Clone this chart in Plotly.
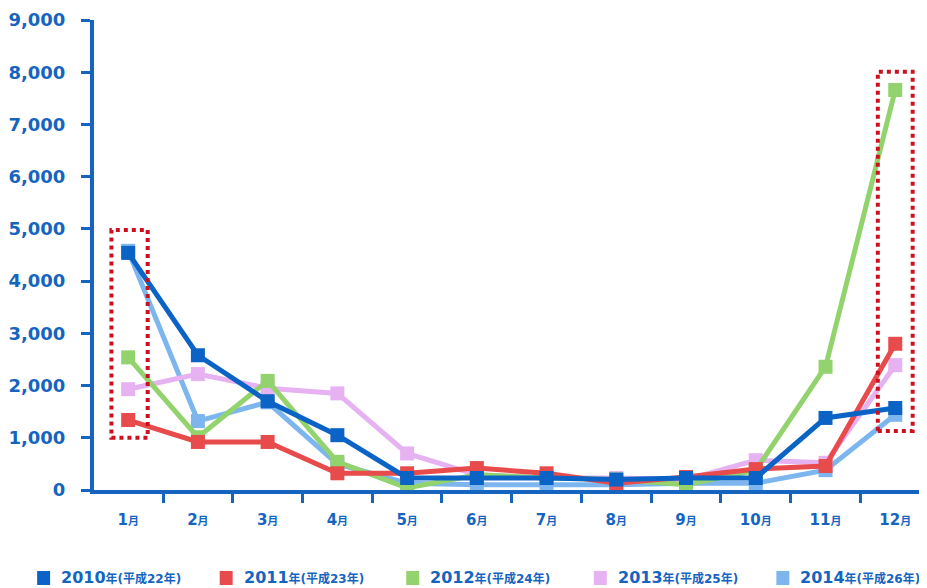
import plotly.graph_objects as go

months = ["1月", "2月", "3月", "4月", "5月", "6月", "7月", "8月", "9月", "10月", "11月", "12月"]
series_names = ["2010年(平成22年)", "2011年(平成23年)", "2012年(平成24年)", "2013年(平成25年)", "2014年(平成26年)"]
v2010 = [4540, 2580, 1700, 1050, 230, 230, 230, 200, 230, 230, 1380, 1570]
v2011 = [1340, 920, 920, 320, 320, 420, 320, 130, 250, 400, 460, 2800]
v2012 = [2540, 1010, 2090, 540, 40, 290, 230, 200, 100, 380, 2360, 7660]
v2013 = [1930, 2220, 1950, 1850, 700, 290, 230, 230, 200, 570, 520, 2390]
v2014 = [4580, 1320, 1680, 500, 130, 100, 100, 100, 130, 130, 380, 1440]
colors = ["#0c63c6", "#e84b4b", "#92d36e", "#e6b2f2", "#7db6ef"]

BLUE = "#1565c0"
FONT = "DejaVu Sans, Noto Sans CJK JP, sans-serif"

# page has an 8px body margin; layout numbers below compensate for it
L, T, W, H = 84, 12, 927, 588
PLOT_W = W - L
PLOT_TOP_S, PLOT_BOT_S = 20, 490  # screenshot pixels


def px_x(sx):
    return (sx - 92) / PLOT_W


def px_y(sy):
    return (PLOT_BOT_S - sy) / (PLOT_BOT_S - PLOT_TOP_S)


fig = go.Figure()
all_vals = [v2010, v2011, v2012, v2013, v2014]
order = [4, 3, 2, 1, 0]
for i in order:
    fig.add_trace(go.Scatter(
        x=months, y=all_vals[i], mode="lines+markers", name=series_names[i],
        line=dict(color=colors[i], width=5),
        marker=dict(symbol="square", size=14, color=colors[i]),
        showlegend=False,
    ))

fig.add_shape(type="rect", xref="x", yref="y", x0=-0.24, x1=0.28, y0=1000, y1=4980,
              line=dict(color="#cc1020", width=4, dash="dot"))
fig.add_shape(type="rect", xref="x", yref="y", x0=10.75, x1=11.25, y0=1130, y1=8010,
              line=dict(color="#cc1020", width=4, dash="dot"))

leg_x = [35, 218, 405, 593, 776]
for i, name in enumerate(series_names):
    fig.add_shape(type="rect", xref="paper", yref="paper",
                  x0=px_x(leg_x[i]), x1=px_x(leg_x[i] + 13),
                  y0=px_y(585), y1=px_y(571),
                  fillcolor=colors[i], line=dict(width=0))
    yr, rest = name[:4], name[4:]
    fig.add_annotation(xref="paper", yref="paper", x=px_x(leg_x[i] + 22), y=px_y(577),
                       xanchor="left", yanchor="middle", showarrow=False,
                       text=f"<b>{yr}<span style='font-size:12px'>{rest}</span></b>",
                       font=dict(family=FONT, size=16, color=BLUE))

tick_text = [f"<b>{m[:-1]}<span style='font-size:11px'>月</span></b>" for m in months]

fig.update_layout(
    width=W, height=H,
    margin=dict(l=L, r=0, t=T, b=H - (PLOT_BOT_S - 8)),
    plot_bgcolor="white", paper_bgcolor="white",
    font=dict(family=FONT, color=BLUE),
    xaxis=dict(
        type="category", range=[-0.49, 11.57],
        showline=True, linecolor=BLUE, linewidth=4,
        ticks="outside", tickson="boundaries", ticklen=9, tickwidth=3, tickcolor=BLUE,
        tickvals=months, ticktext=tick_text, ticklabelstandoff=13,
        tickfont=dict(family=FONT, size=15, color=BLUE),
        showgrid=False, zeroline=False,
    ),
    yaxis=dict(
        range=[0, 9000], tickvals=list(range(0, 9001, 1000)), tickformat=",d",
        showline=True, linecolor=BLUE, linewidth=4,
        ticks="outside", ticklen=9, tickwidth=3, tickcolor=BLUE, ticklabelstandoff=12,
        tickfont=dict(family=FONT, size=18, color=BLUE, weight="bold"),
        showgrid=False, zeroline=False,
    ),
)

fig.write_html("out.html")
